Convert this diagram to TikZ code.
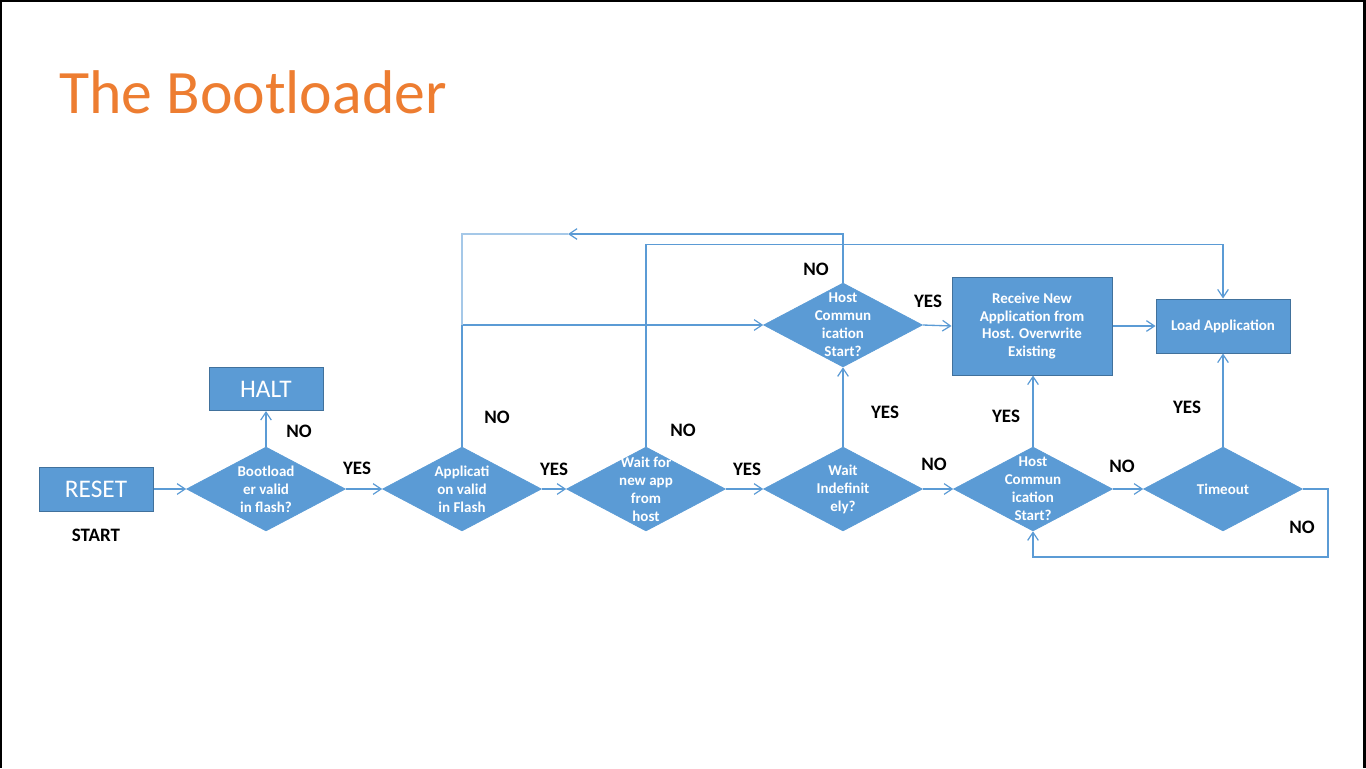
\documentclass[tikz,border=0pt]{standalone}
\usepackage{fontspec}
\setmainfont{Carlito}
\usetikzlibrary{shapes.geometric,arrows.meta}
\definecolor{boxblue}{HTML}{5B9BD5}
\definecolor{boxedge}{HTML}{41719C}
\definecolor{titleorange}{HTML}{ED7D31}
\begin{document}
\begin{tikzpicture}[x=0.75pt,y=-0.75pt,
  dia/.style={shape=diamond, fill=boxblue, draw=boxblue, line width=0.5pt,
    minimum width=119.25pt, minimum height=63pt, inner sep=0pt, aspect=1.9},
  dtxt/.style={text=white, font=\bfseries\fontsize{11.25}{13.5}\selectfont, align=center, inner sep=0pt},
  bigbox/.style={shape=rectangle, fill=boxblue, draw=boxedge, line width=0.75pt,
    text=white, font=\fontsize{19}{22}\selectfont, inner sep=0pt},
  smallbox/.style={shape=rectangle, fill=boxblue, draw=boxedge, line width=0.75pt,
    text=white, font=\bfseries\fontsize{11.25}{13.3}\selectfont, align=center, inner sep=0pt},
  lbl/.style={font=\bfseries\fontsize{14.25}{16}\selectfont, inner sep=0pt},
  flow/.style={draw=boxblue, line width=1pt, -{Straight Barb[length=6pt,width=8pt,line width=0.9pt]}},
  faint/.style={draw=boxblue!55, line width=1pt}
]
\useasboundingbox (0,0) rectangle (1366,768);
% slide frame
\fill[black] (0,0) rectangle (2,768);
\fill[black] (0,0) rectangle (1366,2);
\fill[black] (1363,0) rectangle (1366,768);

% title
\node[anchor=base west, inner sep=0pt, text=titleorange,
      font=\fontsize{46.3}{55}\selectfont] (title) at (59,113) {The Bootloader};

% boxes
\node[bigbox, minimum width=85.5pt, minimum height=33pt] (reset) at (96,489) {RESET};
\node[lbl] (start) at (96,535) {START};
\node[bigbox, minimum width=85.5pt, minimum height=32.25pt] (halt) at (266,389) {HALT};
\node[smallbox, minimum width=120pt, minimum height=73.5pt] (recv) at (1032,326)
  {Receive New\\Application from\\Host. Overwrite\\Existing};
\node[smallbox, minimum width=100.5pt, minimum height=40.5pt] (load) at (1223,326) {Load Application};

% decisions
\node[dia, label={[dtxt]center:{Bootload\\er valid\\in flash?}}] (d1) at (266,489) {};
\node[dia, label={[dtxt]center:{Applicati\\on valid\\in Flash}}] (d2) at (462,489) {};
\node[dia, label={[dtxt]center:{Wait for\\new app\\from\\host}}] (d3) at (646,489) {};
\node[dia, label={[dtxt]center:{Wait\\Indefinit\\ely?}}] (d4) at (843,489) {};
\node[dia, label={[dtxt]center:{Host\\Commun\\ication\\Start?}}] (d5) at (1033,489) {};
\node[dia, label={[dtxt]center:{Timeout}}] (d6) at (1223,489) {};
\node[dia, label={[dtxt]center:{Host\\Commun\\ication\\Start?}}] (top) at (843,325) {};

\coordinate (back) at (568,234);

% connectors
\draw[flow] (reset.east) -- (d1.west);
\draw[flow] (d1.north) -- (halt.south);
\draw[flow] (d1.east) -- (d2.west);
\draw[flow] (d2.east) -- (d3.west);
\draw[flow] (d3.east) -- (d4.west);
\draw[flow] (d4.east) -- (d5.west);
\draw[flow] (d5.east) -- (d6.west);
\draw[flow] (d2.north) |- (top.west);
\draw[flow] (d3.north) -- ++(0,-202) -| (load.north);
\draw[flow] (d4.north) -- (top.south);
\draw[faint] (d2.north |- top.west) |- (back);
\draw[flow] (top.north) |- (back);
\draw[flow] (top.east) -- (recv.west);
\draw[flow] (recv.east) -- (recv.east -| load.west);
\draw[flow] (d5.north) -- (d5.north |- recv.south);
\draw[flow] (d6.north) -- (load.south);
\draw[flow] (d6.east) -- ++(25,0) -- ++(0,68) -| (d5.south);

% branch labels
\node[lbl] (n1) at (299,431) {NO};
\node[lbl] (y1) at (357,468) {YES};
\node[lbl] (y2) at (554,469) {YES};
\node[lbl] (y3) at (747,469) {YES};
\node[lbl] (n4) at (934,464) {NO};
\node[lbl] (n5) at (1122,466) {NO};
\node[lbl] (n2) at (497,417) {NO};
\node[lbl] (n3) at (683,430) {NO};
\node[lbl] (y4) at (885,412) {YES};
\node[lbl] (nt) at (816,269) {NO};
\node[lbl] (yt) at (928,301) {YES};
\node[lbl] (y5) at (1006,416) {YES};
\node[lbl] (y6) at (1187,407) {YES};
\node[lbl] (n6) at (1302,527) {NO};
\end{tikzpicture}
\end{document}
